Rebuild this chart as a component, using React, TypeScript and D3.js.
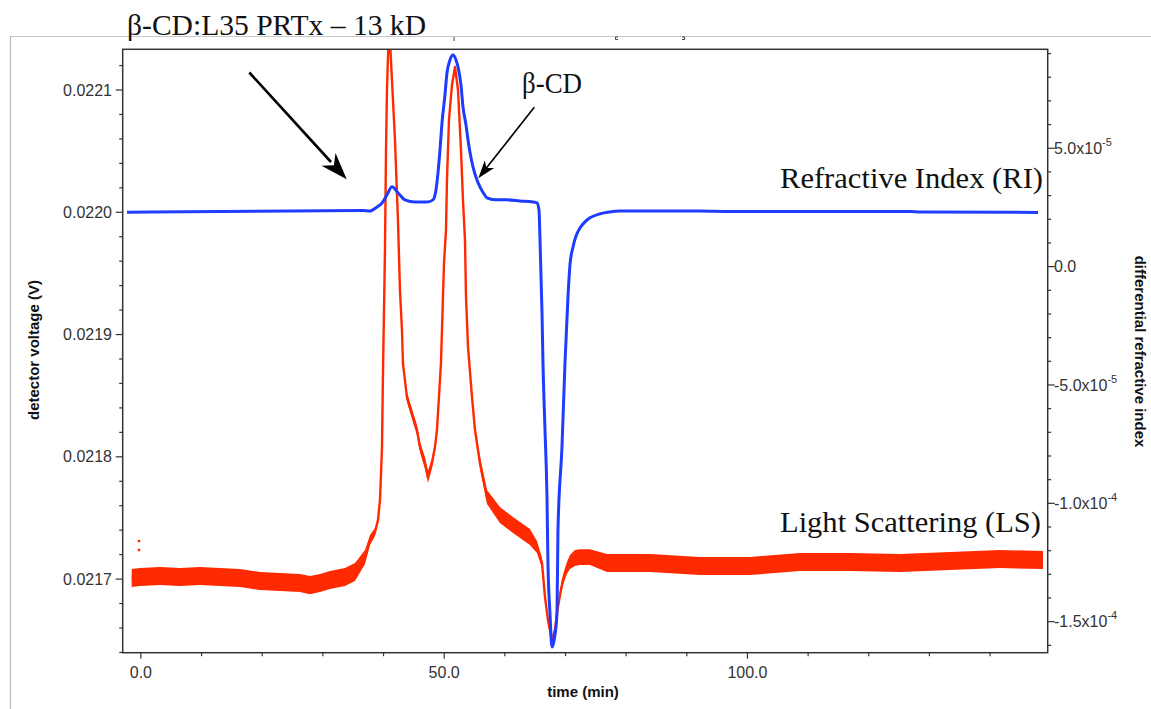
import React from 'react';
import * as d3 from 'd3';

// ---------- DATA ----------
// Refractive index (RI) trace: time (min) and differential refractive index (x1e-5)
const riTime = [
  -2.29, 36.45, 37.77, 38.92, 39.75, 40.57, 41.39, 42.38, 43.53, 45.19,
  47.16, 48.15, 48.65, 48.98, 49.31, 49.64, 50.13, 50.46, 50.96, 51.45,
  51.95, 52.28, 52.77, 53.10, 53.60, 53.93, 54.75, 55.41, 55.90, 56.56,
  57.06, 58.38, 60.35, 62.50, 64.64, 65.30, 65.63, 65.80, 66.13, 66.29,
  66.62, 66.95, 67.11, 67.44, 67.77, 68.19, 68.60, 68.76, 69.42, 69.92,
  70.41, 70.74, 71.24, 71.73, 72.39, 73.21, 74.04, 75.68, 77.33, 78.98,
  92.17, 97.11, 126.79, 128.44, 147.9,
];
const riValueE5 = [
  2.30, 2.37, 2.35, 2.52, 2.69, 3.03, 3.37, 3.12, 2.82, 2.73,
  2.73, 2.82, 3.24, 3.96, 4.93, 6.07, 7.25, 8.18, 8.73, 8.94,
  8.73, 8.44, 7.68, 6.75, 5.98, 5.35, 4.21, 3.66, 3.37, 3.07,
  2.90, 2.82, 2.82, 2.77, 2.73, 2.69, 2.39, 1.13, -1.96, -4.06,
  -6.89, -9.73, -12.52, -14.63, -16.07, -15.69, -14.63, -11.13, -7.62, -4.06,
  -1.28, 0.07, 0.83, 1.29, 1.63, 1.89, 2.06, 2.23, 2.31, 2.35,
  2.35, 2.33, 2.33, 2.31, 2.29,
];

// Light scattering (LS) trace: time (min), detector voltage (V), noise half-width (µV)
const lsTime = [
  -1.52, -0.15, 3.15, 6.45, 9.74, 13.04, 16.34, 19.63, 22.93, 26.23,
  27.88, 29.53, 31.17, 33.65, 35.30, 36.95, 37.77, 38.60, 39.09, 39.42,
  39.75, 39.91, 40.08, 40.24, 40.41, 40.57, 40.82, 41.06, 41.39, 41.89,
  42.38, 42.71, 43.04, 43.20, 43.53, 43.86, 44.35, 44.85, 45.51, 46.01,
  46.83, 47.33, 47.99, 48.48, 48.81, 49.14, 49.47, 49.64, 49.80, 49.97,
  50.30, 50.46, 50.79, 51.29, 51.78, 52.28, 52.77, 53.10, 53.43, 53.60,
  53.93, 54.59, 55.08, 55.90, 57.06, 59.19, 61.34, 64.14, 65.30, 66.13,
  66.62, 67.11, 67.44, 67.77, 68.27, 68.60, 69.09, 69.58, 70.24, 70.74,
  71.56, 72.39, 74.04, 76.84, 83.93, 92.17, 100.41, 108.65, 116.90, 125.14,
  133.38, 141.63, 148.72,
];
const lsValue = [
  0.0217009, 0.0217017, 0.0217025, 0.0217017, 0.0217025, 0.0217017, 0.0217009, 0.0216984, 0.0216976, 0.0216968,
  0.0216951, 0.0216968, 0.0216992, 0.0217017, 0.0217058, 0.0217180, 0.0217319, 0.0217385, 0.0217483, 0.0217647,
  0.0218080, 0.0218686, 0.0219201, 0.0219692, 0.0220510, 0.0221000, 0.0221409, 0.0221409, 0.0221082, 0.0220591,
  0.0219937, 0.0219364, 0.0219037, 0.0218767, 0.0218628, 0.0218489, 0.0218407, 0.0218326, 0.0218219, 0.0218080,
  0.0217949, 0.0217835, 0.0217949, 0.0218080, 0.0218219, 0.0218489, 0.0218767, 0.0219037, 0.0219307, 0.0219585,
  0.0219855, 0.0220264, 0.0220755, 0.0221041, 0.0221189, 0.0221000, 0.0220510, 0.0220101, 0.0219773, 0.0219307,
  0.0218898, 0.0218489, 0.0218219, 0.0217949, 0.0217671, 0.0217524, 0.0217442, 0.0217344, 0.0217262, 0.0217131,
  0.0216853, 0.0216665, 0.0216583, 0.0216501, 0.0216583, 0.0216722, 0.0216870, 0.0216992, 0.0217090, 0.0217140,
  0.0217172, 0.0217180, 0.0217180, 0.0217131, 0.0217131, 0.0217107, 0.0217107, 0.0217140, 0.0217140, 0.0217131,
  0.0217148, 0.0217164, 0.0217156,
];
const lsSpreadMicroV = [
  7.4, 7.4, 7.4, 7.4, 7.4, 7.4, 7.4, 7.4, 7.4, 7.4,
  7.4, 7.4, 7.4, 7.4, 7.4, 5.7, 4.1, 3.3, 2.5, 1.6,
  1.6, 1.6, 1.6, 1.6, 1.6, 1.6, 0.8, 0.8, 1.6, 1.6,
  1.6, 1.6, 1.6, 2.5, 3.3, 4.1, 4.1, 4.1, 4.1, 4.1,
  4.9, 4.9, 4.1, 3.3, 2.5, 1.6, 1.6, 1.6, 1.6, 1.6,
  1.6, 1.6, 1.6, 1.6, 1.6, 1.6, 1.6, 1.6, 1.6, 1.6,
  1.6, 2.5, 3.3, 4.9, 5.7, 6.5, 6.5, 6.5, 4.9, 4.1,
  3.3, 3.3, 3.3, 3.3, 3.3, 3.3, 3.3, 4.1, 4.9, 5.7,
  6.5, 6.5, 6.5, 7.4, 7.4, 7.4, 7.4, 7.4, 7.4, 7.4,
  7.4, 7.4, 7.4,
];
const lsOutlierTime = [-0.31, -0.31];
const lsOutlierValue = [0.0217311, 0.0217238];

// Axes
const xMajorTicks = [0, 50, 100];
const xTickLabels = ['0.0', '50.0', '100.0'];
const xMinorTicks = [10, 20, 30, 40, 60, 70, 80, 90, 110, 120, 130, 140];
const leftMajorTicks = [0.0217, 0.0218, 0.0219, 0.022, 0.0221];
const leftTickLabels = ['0.0217', '0.0218', '0.0219', '0.0220', '0.0221'];
const rightMajorTicks = [5e-5, 0, -5e-5, -1e-4, -1.5e-4];
const rightTickMantissa = ['5.0x10', '0.0', '-5.0x10', '-1.0x10', '-1.5x10'];
const rightTickExponent = ['-5', '', '-5', '-4', '-4'];

const titleText = 'β-CD:L35 PRTx – 13 kD';
const xAxisTitle = 'time (min)';
const leftAxisTitle = 'detector voltage (V)';
const rightAxisTitle = 'differential refractive index';

// ---------- LAYOUT ----------
const W = 1151;
const H = 709;
const PL = 122.7, PR = 1047.7, PT = 49.3, PB = 652.7;
const BLUE = '#1e3cff';
const RED = '#ff2a00';
const AXIS = '#333';
const SANS = '"Liberation Sans", Arial, sans-serif';
const SERIF = '"Liberation Serif", "Times New Roman", serif';

function arrowHead(x1: number, y1: number, x2: number, y2: number, len: number, half: number, notch: number) {
  const dx = x2 - x1, dy = y2 - y1;
  const L = Math.hypot(dx, dy);
  const ux = dx / L, uy = dy / L;
  const px = -uy, py = ux;
  const bx = x2 - ux * len, by = y2 - uy * len;
  const nx = x2 - ux * notch, ny = y2 - uy * notch;
  return `M${x2},${y2}L${bx + px * half},${by + py * half}L${nx},${ny}L${bx - px * half},${by - py * half}Z`;
}

export default function App() {
  const x = d3.scaleLinear().domain([-3.0, 149.5]).range([PL, PR]);
  const yL = d3.scaleLinear().domain([0.0216398, 0.0221333]).range([PB, PT]);
  const yR = d3.scaleLinear().domain([-1.631e-4, 9.18e-5]).range([PB, PT]);

  const riData = riTime.map((t, i) => ({ t, v: riValueE5[i] * 1e-5 }));
  const lsData = lsTime.map((t, i) => ({ t, v: lsValue[i], s: lsSpreadMicroV[i] * 1e-6 }));

  const riLine = d3.line<{ t: number; v: number }>().x(d => x(d.t)).y(d => yR(d.v)).curve(d3.curveMonotoneX);
  const lsLine = d3.line<{ t: number; v: number; s: number }>().x(d => x(d.t)).y(d => yL(d.v)).curve(d3.curveLinear);
  const lsArea = d3.area<{ t: number; v: number; s: number }>()
    .x(d => x(d.t)).y0(d => yL(d.v - d.s)).y1(d => yL(d.v + d.s)).curve(d3.curveLinear);

  const leftMinor = d3.range(0.02164, 0.02214, 0.00002).filter(v => leftMajorTicks.every(m => Math.abs(m - v) > 1e-7) && v >= 0.0216398 && v <= 0.0221333);
  const rightMinor = d3.range(-16e-5, 9.5e-5, 1e-5).filter(v => rightMajorTicks.every(m => Math.abs(m - v) > 1e-9) && v >= -1.631e-4 && v <= 9.18e-5);

  return (
    <svg width={W} height={H} style={{ position: 'absolute', left: 0, top: 0, background: '#fff' }}>
      <defs>
        <clipPath id="plotClip">
          <rect x={PL} y={PT} width={PR - PL} height={PB - PT} />
        </clipPath>
      </defs>
      <rect x={0} y={0} width={W} height={H} fill="#fff" />

      {/* outer window remnants */}
      <line x1={10} y1={36.5} x2={W} y2={36.5} stroke="#c8c8c8" strokeWidth={1.2} />
      <line x1={10.5} y1={36} x2={10.5} y2={H} stroke="#b8b8b8" strokeWidth={1.2} />
      <line x1={454} y1={37} x2={454} y2={41} stroke="#444" strokeWidth={1} />
      <path d="M618,37 L615.5,37 L615.5,39.5 L618,39.5" fill="none" stroke="#444" strokeWidth={1} />
      <path d="M682,37 L684.5,37 L684.5,39.5 L682,39.5" fill="none" stroke="#444" strokeWidth={1} />

      {/* data */}
      <g clipPath="url(#plotClip)">
        <path d={lsArea(lsData) || ''} fill={RED} />
        <path d={lsLine(lsData) || ''} fill="none" stroke={RED} strokeWidth={2.4} strokeLinejoin="round" />
        {lsOutlierTime.map((t, i) => (
          <rect key={i} x={x(t) - 1.2} y={yL(lsOutlierValue[i]) - 1.2} width={2.4} height={2.4} fill={RED} />
        ))}
        <path d={riLine(riData) || ''} fill="none" stroke={BLUE} strokeWidth={3} strokeLinejoin="round" />
      </g>

      {/* plot frame */}
      <rect x={PL} y={PT} width={PR - PL} height={PB - PT} fill="none" stroke={AXIS} strokeWidth={1.5} />

      {/* bottom axis */}
      {xMajorTicks.map((t, i) => (
        <g key={'xm' + i}>
          <line x1={x(t)} x2={x(t)} y1={PB} y2={PB + 6} stroke={AXIS} strokeWidth={1.2} />
          <text x={x(t)} y={678} textAnchor="middle" fontFamily={SANS} fontSize={16} fill="#333">{xTickLabels[i]}</text>
        </g>
      ))}
      {xMinorTicks.map((t, i) => (
        <line key={'xn' + i} x1={x(t)} x2={x(t)} y1={PB} y2={PB + 3.5} stroke={AXIS} strokeWidth={1.2} />
      ))}
      <text x={583} y={697} textAnchor="middle" fontFamily={SANS} fontWeight="bold" fontSize={15} fill="#111">{xAxisTitle}</text>

      {/* left axis */}
      {leftMajorTicks.map((v, i) => (
        <g key={'lm' + i}>
          <line x1={PL - 7} x2={PL} y1={yL(v)} y2={yL(v)} stroke={AXIS} strokeWidth={1.2} />
          <text x={112} y={yL(v) + 5.6} textAnchor="end" fontFamily={SANS} fontSize={16} fill="#333">{leftTickLabels[i]}</text>
        </g>
      ))}
      {leftMinor.map((v, i) => (
        <line key={'ln' + i} x1={PL - 3.5} x2={PL} y1={yL(v)} y2={yL(v)} stroke={AXIS} strokeWidth={1.2} />
      ))}
      <text transform={`translate(39,350) rotate(-90)`} textAnchor="middle" fontFamily={SANS} fontWeight="bold" fontSize={15} fill="#111">{leftAxisTitle}</text>

      {/* right axis */}
      {rightMajorTicks.map((v, i) => (
        <g key={'rm' + i}>
          <line x1={PR} x2={PR + 7} y1={yR(v)} y2={yR(v)} stroke={AXIS} strokeWidth={1.2} />
          <text x={1054} y={yR(v) + 5.6} fontFamily={SANS} fontSize={16} fill="#333">
            {rightTickMantissa[i]}
            {rightTickExponent[i] && (
              <tspan dy={-8} fontSize={11}>{rightTickExponent[i]}</tspan>
            )}
          </text>
        </g>
      ))}
      {rightMinor.map((v, i) => (
        <line key={'rn' + i} x1={PR} x2={PR + 3.5} y1={yR(v)} y2={yR(v)} stroke={AXIS} strokeWidth={1.2} />
      ))}
      <text transform={`translate(1135,351.5) rotate(90)`} textAnchor="middle" fontFamily={SANS} fontWeight="bold" fontSize={15} fill="#111">{rightAxisTitle}</text>

      {/* annotations */}
      <text x={127} y={35} fontFamily={SERIF} fontSize={30} fill="#111" textLength={299} lengthAdjust="spacingAndGlyphs">{titleText}</text>
      <text x={522} y={92.5} fontFamily={SERIF} fontSize={30} fill="#111" textLength={60} lengthAdjust="spacingAndGlyphs">β-CD</text>
      <text x={780} y={187.5} fontFamily={SERIF} fontSize={30} fill="#111" textLength={263} lengthAdjust="spacingAndGlyphs">Refractive Index (RI)</text>
      <text x={780} y={531.5} fontFamily={SERIF} fontSize={30} fill="#111" textLength={261} lengthAdjust="spacingAndGlyphs">Light Scattering (LS)</text>

      <line x1={249.3} y1={72.5} x2={331} y2={162} stroke="#000" strokeWidth={2.6} />
      <path d={arrowHead(249.3, 72.5, 346.7, 179.3, 27, 9.5, 19)} fill="#000" />
      <line x1={534.3} y1={107.3} x2={486} y2={168.5} stroke="#000" strokeWidth={1.6} />
      <path d={arrowHead(534.3, 107.3, 478.3, 178.3, 18, 6, 13)} fill="#000" />
    </svg>
  );
}
